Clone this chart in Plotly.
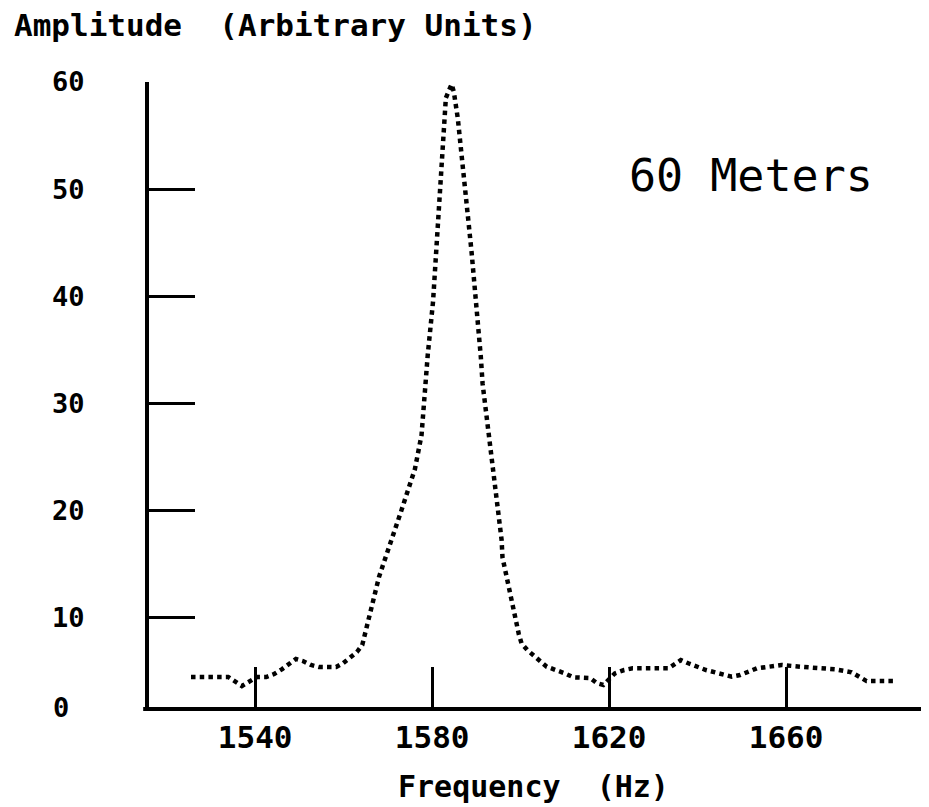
import plotly.graph_objects as go

# Data
freq_hz = [1525.5, 1533.9, 1537.0, 1538.7, 1540.4, 1542.5, 1544.3, 1546.1, 1549.2, 1550.8,
           1552.6, 1554.4, 1558.3, 1559.9, 1561.4, 1563.0, 1564.2, 1568.0, 1573.0, 1576.1,
           1577.6, 1579.0, 1580.2, 1583.1, 1584.4, 1584.9, 1585.8, 1586.9, 1588.9, 1591.0,
           1591.4, 1595.7, 1595.9, 1599.6, 1600.2, 1601.5, 1605.9, 1610.0, 1611.9, 1615.7,
           1617.3, 1618.7, 1620.2, 1621.3, 1623.4, 1625.3, 1633.4, 1636.2, 1637.9, 1641.9,
           1647.7, 1649.6, 1653.4, 1659.0, 1663.2, 1671.1, 1674.8, 1676.7, 1678.2, 1684.2]
amplitude = [4.48, 4.48, 3.64, 4.10, 4.48, 4.48, 4.76, 5.22, 6.16, 5.97,
             5.60, 5.41, 5.41, 5.78, 6.34, 6.81, 7.46, 13.83, 19.96, 23.88,
             27.05, 34.51, 39.49, 58.52, 59.79, 59.08, 56.60, 52.49, 44.19, 34.36,
             31.87, 17.26, 15.64, 8.46, 7.62, 7.00, 5.44, 4.82, 4.45, 4.38,
             3.89, 3.73, 4.45, 4.82, 5.13, 5.29, 5.29, 6.06, 5.76, 5.13,
             4.51, 4.66, 5.29, 5.60, 5.44, 5.20, 4.92, 4.51, 4.10, 4.10]

x_ticks = [1540, 1580, 1620, 1660]
y_ticks = [10, 20, 30, 40, 50, 60]
y_title = "Amplitude\u00a0\u00a0(Arbitrary Units)"
x_title = "Frequency\u00a0\u00a0(Hz)"
label_text = "60 Meters"

FONT = "DejaVu Sans Mono"

fig = go.Figure()
fig.add_trace(go.Scatter(
    x=freq_hz, y=amplitude, mode="lines",
    line=dict(color="black", width=4.5, dash="4.5px,4.2px"),
    showlegend=False, hoverinfo="skip",
))

# page body has an 8px default margin, so the figure is 8px smaller than the window
fig.update_layout(
    width=921, height=799,
    margin=dict(l=141, r=4, t=74, b=100),
    paper_bgcolor="white", plot_bgcolor="white",
    xaxis=dict(
        range=[1516.0, 1691.4], showgrid=False, zeroline=False,
        showline=True, linecolor="black", linewidth=4,
        ticks="inside", ticklen=40, tickwidth=3, tickcolor="black",
        tickvals=x_ticks, ticktext=[str(v) for v in x_ticks],
        tickfont=dict(family=FONT, size=31, color="black", weight="bold"),
        ticklabelstandoff=0,
    ),
    yaxis=dict(
        range=[1.68, 60], showgrid=False, zeroline=False,
        showline=True, linecolor="black", linewidth=4,
        ticks="inside", ticklen=46, tickwidth=3, tickcolor="black",
        tickvals=y_ticks, ticktext=[str(v) for v in y_ticks],
        tickfont=dict(family=FONT, size=27, color="black", weight="bold"),
        ticklabelstandoff=55,
    ),
    annotations=[
        dict(text=y_title, xref="paper", yref="paper", x=-0.1765, y=1.0912,
             xanchor="left", yanchor="middle", showarrow=False,
             font=dict(family=FONT, size=31, color="black", weight="bold")),
        dict(text=x_title, xref="paper", yref="paper", x=0.4955, y=-0.1264,
             xanchor="center", yanchor="middle", showarrow=False,
             font=dict(family=FONT, size=30, color="black", weight="bold")),
        dict(text=label_text, xref="paper", yref="paper", x=0.776, y=0.85,
             xanchor="center", yanchor="middle", showarrow=False,
             font=dict(family=FONT, size=45, color="black")),
        dict(text="0", xref="paper", yref="paper", x=-0.1263, y=0.0,
             xanchor="left", yanchor="middle", showarrow=False,
             font=dict(family=FONT, size=27, color="black", weight="bold")),
    ],
    shapes=[
        dict(type="line", xref="paper", yref="paper", x0=-0.0075, x1=0.0,
             ysizemode="pixel", yanchor=0, y0=-2, y1=-2,
             line=dict(color="black", width=4)),
    ],
)

fig.write_html("out.html")
